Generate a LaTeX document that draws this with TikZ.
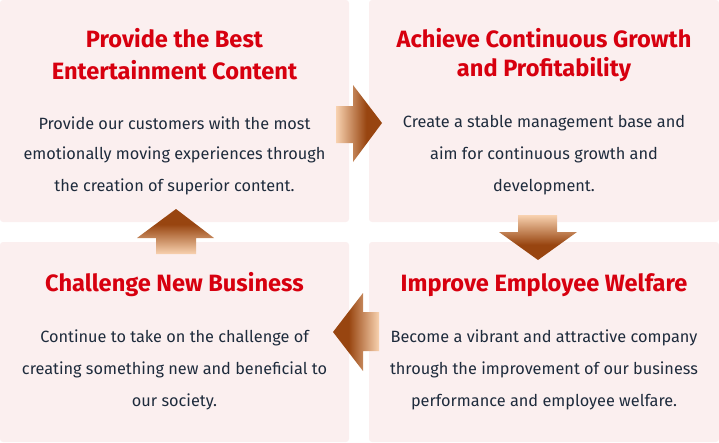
\documentclass[tikz,border=0pt]{standalone}
\usepackage{fontspec}
\setmainfont{Fira Sans}
\definecolor{boxbg}{HTML}{FBEFEF}
\definecolor{titlered}{HTML}{D7000F}
\definecolor{bodytxt}{HTML}{1E2B3C}
\definecolor{arrlight}{HTML}{F8D2B0}
\definecolor{arrdark}{HTML}{984510}
\pgfdeclarehorizontalshading{arrgrad}{100bp}{color(0bp)=(arrlight); color(25bp)=(arrlight); color(58bp)=(arrdark); color(100bp)=(arrdark)}
\begin{document}
\begin{tikzpicture}[x=1pt,y=-1pt,
  panel/.style={fill=boxbg,draw=none,rounded corners=3pt},
  ttl/.style={text=titlered,font=\fontsize{23.6}{32}\selectfont\bfseries,align=center,inner sep=0pt},
  body/.style={text=bodytxt,font=\fontsize{16.3}{32}\selectfont,align=center,inner sep=0pt},
  blockarrow/.style={shading=arrgrad,draw=none}]
\useasboundingbox (0,0) rectangle (719,442);
% panels
\fill[panel] (0,0) rectangle (349,222);
\fill[panel] (369,0) rectangle (719,222);
\fill[panel] (0,242) rectangle (349,442);
\fill[panel] (369,242) rectangle (719,442);
% titles
\node[ttl] (t1a) at (174.5,38) {Provide the Best};
\node[ttl] (t1b) at (174.5,70) {Entertainment Content};
\node[ttl] (t2a) at (544,38) {Achieve Continuous Growth};
\node[ttl] (t2b) at (544,70) {and Profitability};
\node[ttl] (t3) at (174.5,285) {Challenge New Business};
\node[ttl] (t4) at (544,285) {Improve Employee Welfare};
% bodies
\node[body] (b1a) at (174.5,123) {Provide our customers with the most};
\node[body] (b1b) at (174.5,155) {emotionally moving experiences through};
\node[body] (b1c) at (174.5,187) {the creation of superior content.};
\node[body] (b2a) at (544,123) {Create a stable management base and};
\node[body] (b2b) at (544,155) {aim for continuous growth and};
\node[body] (b2c) at (544,187) {development.};
\node[body] (b3a) at (174.5,338) {Continue to take on the challenge of};
\node[body] (b3b) at (174.5,370) {creating something new and beneficial to};
\node[body] (b3c) at (174.5,402) {our society.};
\node[body] (b4a) at (544,338) {Become a vibrant and attractive company};
\node[body] (b4b) at (544,370) {through the improvement of our business};
\node[body] (b4c) at (544,402) {performance and employee welfare.};
% arrows
\shade[blockarrow]
  (336,106) -- (353,106) -- (353,85) -- (382,123) -- (353,162) -- (353,143) -- (336,143) -- cycle;
\shade[blockarrow,shading angle=-90]
  (518,215) -- (557,215) -- (557,232) -- (577,232) -- (538,260) -- (499,232) -- (518,232) -- cycle;
\shade[blockarrow,shading angle=180]
  (379,312) -- (363,312) -- (363,293) -- (333,332) -- (363,371) -- (363,351) -- (379,351) -- cycle;
\shade[blockarrow,shading angle=90]
  (156,254) -- (156,238) -- (137,238) -- (176,209) -- (214,238) -- (196,238) -- (196,254) -- cycle;
\end{tikzpicture}
\end{document}
